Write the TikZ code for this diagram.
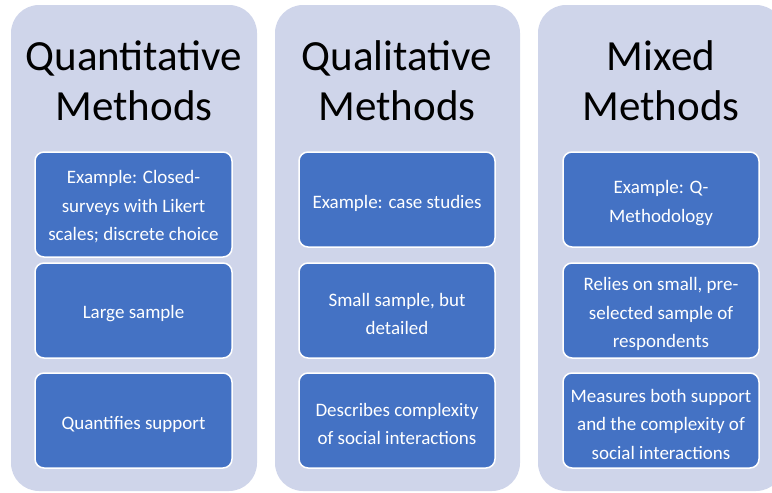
\documentclass[tikz,border=0pt]{standalone}
\usepackage{fontspec}
\setmainfont{Carlito}
\definecolor{lav}{HTML}{CFD5EA}
\definecolor{bluebox}{HTML}{4472C4}
\begin{document}
\begin{tikzpicture}[x=1pt,y=-1pt,
  colbg/.style={fill=lav, draw=none, rounded corners=28pt},
  header/.style={font=\fontsize{43}{50}\selectfont, align=center, text=black, anchor=center},
  itembox/.style={fill=bluebox, draw=white, line width=1.5pt, rounded corners=9pt},
  itemtext/.style={font=\fontsize{19}{28.5}\selectfont, align=center, text=white, anchor=center}]
\useasboundingbox (0,0) rectangle (772,493);
\begin{scope}
\clip (0,0) rectangle (772,493);
% column backgrounds
\fill[colbg] (11,5) rectangle (257,491);
\fill[colbg] (275,5) rectangle (520,491);
\fill[colbg] (538,5) rectangle (784,491);
% headers
\node[header] (h1) at (134,81) {Quantitative\\Methods};
\node[header] (h2) at (397,81) {Qualitative\\Methods};
\node[header] (h3) at (661,81) {Mixed\\Methods};
% column 1 boxes
\draw[itembox] (35,152) rectangle (232,257);
\node[itemtext] (a1) at (133.5,207) {Example: Closed-\\surveys with Likert\\scales; discrete choice};
\draw[itembox] (35,263) rectangle (232,358);
\node[itemtext] (a2) at (133.5,314) {Large sample};
\draw[itembox] (35,373) rectangle (232,468);
\node[itemtext] (a3) at (133.5,424) {Quantifies support};
% column 2 boxes
\draw[itembox] (299,152) rectangle (495,247);
\node[itemtext] (b1) at (397,203) {Example: case studies};
\draw[itembox] (299,263) rectangle (495,358);
\node[itemtext] (b2) at (397,314) {Small sample, but\\detailed};
\draw[itembox] (299,373) rectangle (495,468);
\node[itemtext] (b3) at (397,424) {Describes complexity\\of social interactions};
% column 3 boxes
\draw[itembox] (563,152) rectangle (759,247);
\node[itemtext] (c1) at (661,203) {Example: Q-\\Methodology};
\draw[itembox] (563,263) rectangle (759,358);
\node[itemtext] (c2) at (661,314) {Relies on small, pre-\\selected sample of\\respondents};
\draw[itembox] (563,373) rectangle (759,468);
\node[itemtext] (c3) at (661,424) {Measures both support\\and the complexity of\\social interactions};
\end{scope}
\end{tikzpicture}
\end{document}
